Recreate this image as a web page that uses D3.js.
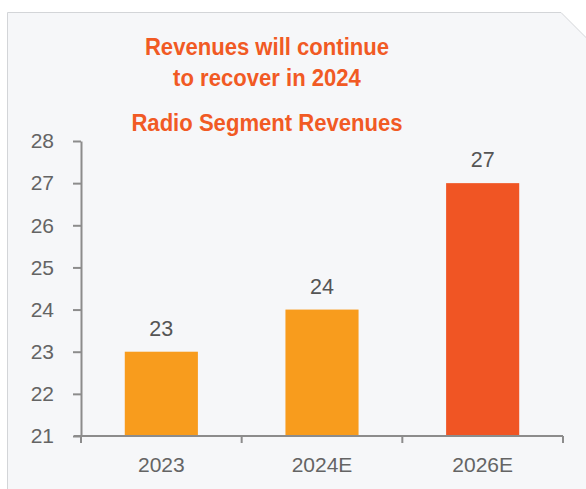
<!DOCTYPE html>
<html>
<head>
<meta charset="utf-8">
<script src="https://cdn.jsdelivr.net/npm/d3@7"></script>
<style>
  html, body { margin: 0; padding: 0; background: #ffffff; }
  svg { display: block; }
</style>
</head>
<body>
<svg id="chart" width="586" height="489"></svg>
<script>
// Radio segment revenues by year
const categories = ["2023", "2024E", "2026E"];
const revenues = [23, 24, 27];
const barColors = ["#F89C1D", "#F89C1D", "#F05524"];
const yTicks = [21, 22, 23, 24, 25, 26, 27, 28];
const titleLines = ["Revenues will continue", "to recover in 2024"];
const subtitle = "Radio Segment Revenues";

const svg = d3.select("#chart");
const W = 586, H = 489;
const font = "Liberation Sans, Arial, sans-serif";

// Card background with a clipped top-right corner
const cardLeft = 7.5, cardTop = 12.5, cut = 25;
svg.append("path")
  .attr("d", `M${cardLeft},${H + 2} L${cardLeft},${cardTop} L${W - cut},${cardTop} L${W + 0.5},${cardTop + cut + 0.5} L${W + 0.5},${H + 2}`)
  .attr("fill", "#F6F7F9")
  .attr("stroke", "#D3D5D8")
  .attr("stroke-width", 1);

// Headline text (slightly condensed)
const orange = "#F15A24";
const titleX = 267;
const squeeze = 0.94;
const headline = svg.append("g")
  .attr("transform", `translate(${titleX},0) scale(${squeeze},1)`);
headline.selectAll("text.title")
  .data(titleLines.concat([subtitle]))
  .enter().append("text")
  .attr("class", "title")
  .attr("x", 0)
  .attr("y", (d, i) => [55, 86, 131][i])
  .attr("text-anchor", "middle")
  .attr("font-family", font)
  .attr("font-weight", "bold")
  .attr("font-size", 23.5)
  .attr("fill", orange)
  .text(d => d);

// Plot area
const x0 = 81, x1 = 563, yTop = 141, yBottom = 436;
const x = d3.scaleBand().domain(categories).range([x0, x1]).paddingInner(0.545).paddingOuter(0.2725);
const y = d3.scaleLinear().domain([21, 28]).range([yBottom, yTop]);

const axisColor = "#8C8C8C";
const labelColor = "#646464";

// Bars
svg.selectAll("rect.bar")
  .data(revenues)
  .enter().append("rect")
  .attr("class", "bar")
  .attr("x", (d, i) => x(categories[i]))
  .attr("y", d => y(d))
  .attr("width", x.bandwidth())
  .attr("height", d => y(21) - y(d))
  .attr("fill", (d, i) => barColors[i]);

// Value labels
svg.selectAll("text.value")
  .data(revenues)
  .enter().append("text")
  .attr("class", "value")
  .attr("x", (d, i) => x(categories[i]) + x.bandwidth() / 2)
  .attr("y", d => y(d) - 16)
  .attr("text-anchor", "middle")
  .attr("font-family", font)
  .attr("font-size", 21.5)
  .attr("fill", "#555555")
  .text(d => d);

// Y axis
const yAxis = d3.axisLeft(y).tickValues(yTicks).tickSize(8).tickSizeOuter(0).tickPadding(19).tickFormat(d3.format("d"));
const gy = svg.append("g").attr("transform", `translate(${x0},0)`).call(yAxis);
gy.select(".domain").attr("stroke", axisColor).attr("stroke-width", 2);
gy.selectAll(".tick line").attr("stroke", axisColor).attr("stroke-width", 2);
gy.selectAll(".tick text")
  .attr("font-family", font)
  .attr("font-size", 21)
  .attr("fill", labelColor);

// X axis baseline with boundary ticks
const xLine = svg.append("g");
xLine.append("line")
  .attr("x1", x0 - 7).attr("x2", x1)
  .attr("y1", yBottom).attr("y2", yBottom)
  .attr("stroke", axisColor).attr("stroke-width", 2);
const boundaries = d3.range(categories.length + 1).map(i => x0 + i * x.step());
xLine.selectAll("line.xt")
  .data(boundaries)
  .enter().append("line")
  .attr("class", "xt")
  .attr("x1", d => d).attr("x2", d => d)
  .attr("y1", yBottom).attr("y2", yBottom + 7)
  .attr("stroke", axisColor).attr("stroke-width", 2);

const xAxis = d3.axisBottom(x).tickSize(0).tickPadding(21);
const gx = svg.append("g").attr("transform", `translate(0,${yBottom})`).call(xAxis);
gx.select(".domain").remove();
gx.selectAll(".tick text")
  .attr("font-family", font)
  .attr("font-size", 21)
  .attr("fill", labelColor);
</script>
</body>
</html>
